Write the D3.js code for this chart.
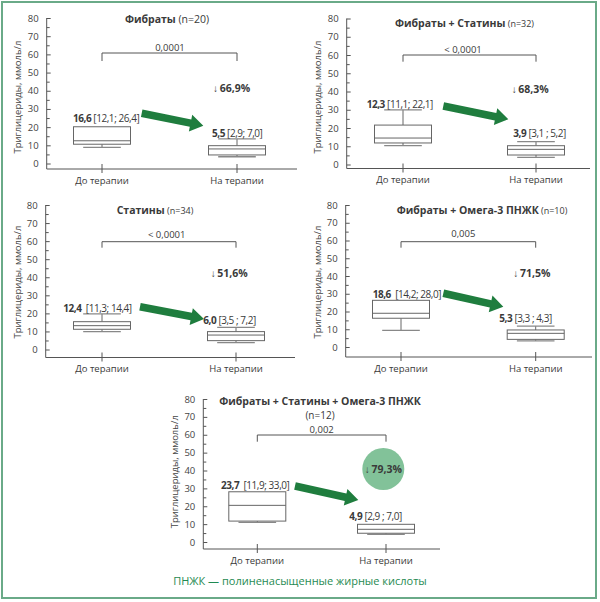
<!DOCTYPE html>
<html><head><meta charset="utf-8">
<script src="https://cdn.jsdelivr.net/npm/d3@7/dist/d3.min.js"></script>
<style>
body{margin:0;background:#fff;}
svg{display:block;font-family:"Open Sans","Noto Sans",sans-serif;}
</style></head>
<body><svg id="c" width="600" height="602"></svg>
<script>
// ---------- DATA ----------
const categories = ["До терапии", "На терапии"];
const titles = ["Фибраты", "Фибраты + Статины", "Статины", "Фибраты + Омега-3 ПНЖК", "Фибраты + Статины + Омега-3  ПНЖК"];
const nValues = ["(n=20)", "(n=32)", "(n=34)", "(n=10)", "(n=12)"];
const pValues = ["0,0001", "< 0,0001", "< 0,0001", "0,005", "0,002"];
const decreasePct = ["66,9%", "68,3%", "51,6%", "71,5%", "79,3%"];
const medianBefore = ["16,6", "12,3", "12,4", "18,6", "23,7"];
const iqrBefore = ["[12,1; 26,4]", "[11,1; 22,1]", "[11,3; 14,4]", "[14,2; 28,0]", "[11,9; 33,0]"];
const medianAfter = ["5,5", "3,9", "6,0", "5,3", "4,9"];
const iqrAfter = ["[2,9; 7,0]", "[3,1 ; 5,2]", "[3,5 ; 7,2]", "[3,3 ; 4,3]", "[2,9 ; 7,0]"];
// box stats: [lower whisker, Q1, median, Q3, upper whisker]
const boxBefore = [
  [8.9, 10.6, 12.5, 20.2, 20.2],
  [10.3, 11.8, 14.5, 21.6, 29.9],
  [9.9, 11.2, 13.2, 15.4, 19.7],
  [9.4, 16.2, 19.0, 26.3, 26.3],
  [11.0, 11.7, 20.5, 28.1, 28.1]
];
const boxAfter = [
  [3.7, 4.7, 8.0, 9.8, 13.5],
  [3.9, 5.2, 8.3, 10.3, 12.5],
  [3.8, 4.9, 8.0, 9.9, 12.3],
  [3.4, 4.3, 7.7, 9.6, 11.8],
  [4.3, 4.9, 7.1, 9.9, 9.9]
];
const yTicks = [0, 10, 20, 30, 40, 50, 60, 70, 80];
const yMinorTicks = [5, 15, 25, 35, 45, 55, 65, 75];
const yAxisTitle = "Триглицериды, ммоль/л";
const footnote = "ПНЖК — полиненасыщенные жирные кислоты";

// ---------- LAYOUT ----------
const layout = [
  {axisX:46.7, yTop:18, yZero:163.5, yBase:169, cx:[102,237], baseEnd:297, titleX:167, titleY:19, nSmall:false,
   pY:53, pTick:61, pLabelY:47, pLabelX:170, pctX:213, pctY:88, mbX:73, mbY:118, maX:212, maY:133,
   arrow:[[141.7,113.3],[203.3,125.7]], ylabX:17, ylabY:97},
  {axisX:346.7, yTop:18.5, yZero:164.5, yBase:168.5, cx:[403,536], baseEnd:590, titleX:464.5, titleY:23, nSmall:true,
   pY:55, pTick:61.7, pLabelY:49, pLabelX:463, pctX:511.7, pctY:89.3, mbX:366.7, mbY:104.3, maX:513.3, maY:133.3,
   arrow:[[443.3,106],[508.3,119.3]], ylabX:317, ylabY:97},
  {axisX:45.7, yTop:205, yZero:349.5, yBase:357.5, cx:[102,236], baseEnd:295, titleX:155, titleY:210, nSmall:true,
   pY:241.7, pTick:247.7, pLabelY:234.3, pLabelX:166.7, pctX:210.7, pctY:273.3, mbX:63.3, mbY:308.3, maX:203.3, maY:320,
   arrow:[[140,306.7],[204,319]], ylabX:17, ylabY:282},
  {axisX:345.7, yTop:205, yZero:347, yBase:357, cx:[401,535.7], baseEnd:592, titleX:482, titleY:210, nSmall:true,
   pY:241.7, pTick:247.7, pLabelY:233.3, pLabelX:463.3, pctX:513.3, pctY:273.3, mbX:372.7, mbY:294, maX:499.3, maY:318.3,
   arrow:[[443.3,293.3],[503.3,306.7]], ylabX:317, ylabY:282},
  {axisX:203.3, yTop:399, yZero:542, yBase:549, cx:[257.3,386], baseEnd:440, titleX:320, titleY:400.7, nSmall:false, nLine:415,
   pY:435, pTick:441.7, pLabelY:429, pLabelX:321.7, pctX:383.3, pctY:469, mbX:221, mbY:485, maX:349.3, maY:516,
   arrow:[[295,486],[358.3,500]], ylabX:174, ylabY:471.7, circle:{r:21}}
];
const boxW = 57;
const txt = "#3a3a3a", axisCol = "#555", boxCol = "#666", arrowCol = "#1f7d3e";

const svg = d3.select("#c");

// outer frame
svg.append("rect").attr("x",2).attr("y",2).attr("width",594).attr("height",596)
  .attr("fill","none").attr("stroke","#6aaa88").attr("stroke-width",2);

function arrowPath(p0, p1){
  const dx = p1[0]-p0[0], dy = p1[1]-p0[1];
  const L = Math.hypot(dx,dy), ux = dx/L, uy = dy/L, nx = -uy, ny = ux;
  const sw = 3.8, hw = 8.5, hl = 13;
  const pts = [
    [0, -sw],[L-hl, -sw],[L-hl, -hw],[L,0],[L-hl, hw],[L-hl, sw],[0, sw]
  ].map(([a,b]) => [p0[0]+ux*a+nx*b, p0[1]+uy*a+ny*b]);
  return d3.line()(pts) + "Z";
}

layout.forEach((L, i) => {
  const g = svg.append("g");
  const y = d3.scaleLinear().domain([0,80]).range([L.yZero, L.yTop]);
  const x = d3.scalePoint().domain(categories).range(L.cx);

  // y axis major
  const ax = g.append("g").attr("transform",`translate(${L.axisX},0)`)
    .call(d3.axisLeft(y).tickValues(yTicks).tickSizeInner(-4).tickSizeOuter(0).tickPadding(8).tickFormat(d3.format("d")));
  ax.select(".domain").remove();
  ax.selectAll("line").attr("stroke",axisCol);
  ax.selectAll("text").attr("fill","#444").attr("font-size",9.5).attr("font-family","Open Sans");
  const axm = g.append("g").attr("transform",`translate(${L.axisX},0)`)
    .call(d3.axisLeft(y).tickValues(yMinorTicks).tickSizeInner(-3).tickSizeOuter(0).tickFormat(""));
  axm.select(".domain").remove();
  axm.selectAll("line").attr("stroke",axisCol);
  g.append("line").attr("x1",L.axisX).attr("x2",L.axisX).attr("y1",y(80)).attr("y2",L.yBase).attr("stroke",axisCol);
  // x baseline
  g.append("line").attr("x1",L.axisX).attr("x2",L.baseEnd).attr("y1",L.yBase).attr("y2",L.yBase).attr("stroke",axisCol);
  categories.forEach(c => {
    g.append("line").attr("x1",x(c)).attr("x2",x(c)).attr("y1",L.yBase-5).attr("y2",L.yBase+4).attr("stroke",axisCol);
    g.append("text").attr("x",x(c)).attr("y",L.yBase+11).attr("text-anchor","middle").attr("dominant-baseline","central")
      .attr("font-size",9.5).attr("fill",txt).text(c);
  });
  // y axis title
  g.append("text").attr("transform",`translate(${L.ylabX},${L.ylabY}) rotate(-90)`).attr("text-anchor","middle")
    .attr("dominant-baseline","central").attr("font-size",9.5).attr("fill","#444").text(yAxisTitle);

  // title
  const t = g.append("text").attr("x",L.titleX).attr("y",L.titleY).attr("text-anchor","middle")
    .attr("dominant-baseline","central").attr("fill",txt).attr("font-size",10.5);
  t.append("tspan").attr("font-weight","bold").text(titles[i]);
  if (L.nLine) {
    g.append("text").attr("x",L.titleX).attr("y",L.nLine).attr("text-anchor","middle").attr("dominant-baseline","central")
      .attr("fill",txt).attr("font-size",10).text(nValues[i]);
  } else {
    t.append("tspan").attr("font-size",L.nSmall?9:10.5).text(" " + nValues[i]);
  }

  // p-value bracket
  g.append("path").attr("d",`M${x(categories[0])},${L.pTick}V${L.pY}H${x(categories[1])}V${L.pTick}`)
    .attr("fill","none").attr("stroke",axisCol);
  g.append("text").attr("x",L.pLabelX).attr("y",L.pLabelY).attr("text-anchor","middle").attr("dominant-baseline","central")
    .attr("font-size",9.5).attr("fill",txt).text(pValues[i]);

  // boxes
  [boxBefore[i], boxAfter[i]].forEach((b, k) => {
    const cx = x(categories[k]);
    const capW = boxW*0.66;
    g.append("line").attr("x1",cx).attr("x2",cx).attr("y1",y(b[0])).attr("y2",y(b[1])).attr("stroke",boxCol);
    g.append("line").attr("x1",cx).attr("x2",cx).attr("y1",y(b[3])).attr("y2",y(b[4])).attr("stroke",boxCol);
    g.append("line").attr("x1",cx-capW/2).attr("x2",cx+capW/2).attr("y1",y(b[0])).attr("y2",y(b[0])).attr("stroke","#888").attr("stroke-width",1.3);
    if (b[4] > b[3]) g.append("line").attr("x1",cx-capW/2).attr("x2",cx+capW/2).attr("y1",y(b[4])).attr("y2",y(b[4])).attr("stroke","#888").attr("stroke-width",1.3);
    g.append("rect").attr("x",cx-boxW/2).attr("width",boxW).attr("y",y(b[3])).attr("height",y(b[1])-y(b[3]))
      .attr("fill","#fff").attr("stroke",boxCol);
    g.append("line").attr("x1",cx-boxW/2).attr("x2",cx+boxW/2).attr("y1",y(b[2])).attr("y2",y(b[2])).attr("stroke",boxCol);
  });

  // median labels
  const lb = g.append("text").attr("x",L.mbX).attr("y",L.mbY).attr("dominant-baseline","central").attr("font-size",10)
    .attr("letter-spacing",-0.45).attr("fill",txt);
  lb.append("tspan").attr("font-weight","bold").text(medianBefore[i]);
  lb.append("tspan").text((i >= 2 ? "\u00a0\u00a0" : " ") + iqrBefore[i]);
  const la = g.append("text").attr("x",L.maX).attr("y",L.maY).attr("dominant-baseline","central").attr("font-size",10)
    .attr("letter-spacing",-0.45).attr("fill",txt);
  la.append("tspan").attr("font-weight","bold").text(medianAfter[i]);
  la.append("tspan").text(" " + iqrAfter[i]);

  // green arrow
  g.append("path").attr("d",arrowPath(L.arrow[0],L.arrow[1])).attr("fill",arrowCol);

  // percentage
  if (L.circle) {
    g.append("circle").attr("cx",L.pctX).attr("cy",L.pctY).attr("r",L.circle.r).attr("fill","#82c299");
  }
  const pt = g.append("text").attr("x",L.pctX).attr("y",L.pctY).attr("dominant-baseline","central")
    .attr("text-anchor",L.circle?"middle":"start").attr("font-size",10.5).attr("fill",txt);
  pt.append("tspan").attr("font-weight","normal").attr("font-size",10).text("↓\u2009");
  pt.append("tspan").attr("font-weight","bold").text(decreasePct[i]);
});

svg.append("text").attr("x",300).attr("y",580).attr("text-anchor","middle").attr("dominant-baseline","central")
  .attr("font-size",11).attr("fill","#1f8a52").text(footnote);
</script></body></html>
